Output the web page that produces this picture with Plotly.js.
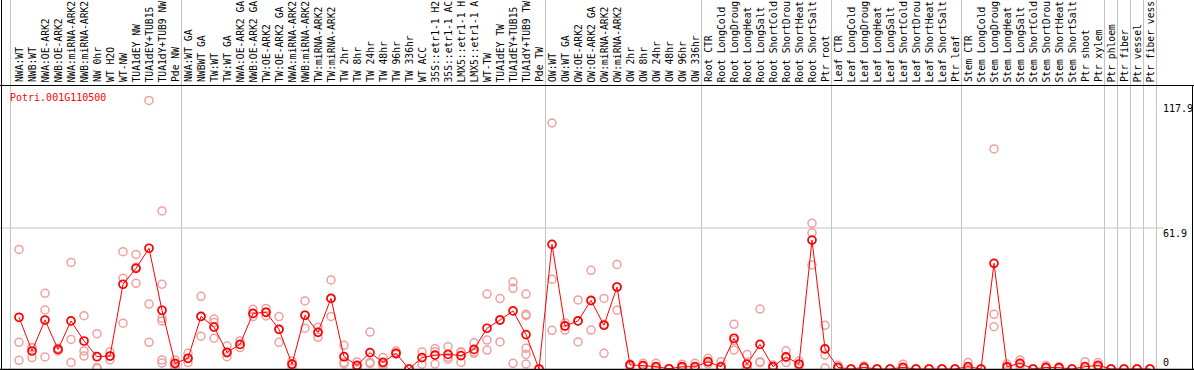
<!DOCTYPE html>
<html>
<head>
<meta charset="utf-8">
<script src="https://cdn.plot.ly/plotly-3.0.1.min.js"></script>
<style>html,body{margin:0;padding:0;background:#fff;}#chart{width:1194px;height:370px;}</style>
</head>
<body>
<div id="chart"></div>
<script>
const geneName = "Potri.001G110500";

const sampleLabels = [
  "NWA:WT","NWB:WT","NWA:OE-ARK2","NWB:OE-ARK2","NWA:miRNA-ARK2","NWB:miRNA-ARK2","NW 0hr","WT H2O","WT-NW","TUA1dEY NW","TUA1dEY+TUB15","TUA1dY+TUB9 NW","Pde NW",
  "NWA:WT GA","NWBWT GA","TW:WT","TW:WT GA","NWA:OE-ARK2 GA","NWB:OE-ARK2 GA","TW:OE-ARK2","TW:OE-ARK2 GA","NWA:miRNA-ARK2","NWB:miRNA-ARK2","TW:miRNA-ARK2","TW:miRNA-ARK2","TW 2hr","TW 8hr","TW 24hr","TW 48hr","TW 96hr","TW 336hr","WT ACC","35S::etr1-1 H2","35S::etr1-1 AC","LMX5::etr1-1 H","LMX5::etr1-1 A","WT-TW","TUA1dEY TW","TUA1dEY+TUB15","TUA1dY+TUB9 TW","Pde TW",
  "OW:WT","OW:WT GA","OW:OE-ARK2","OW:OE-ARK2 GA","OW:miRNA-ARK2","OW:miRNA-ARK2","OW 2hr","OW 8hr","OW 24hr","OW 48hr","OW 96hr","OW 336hr",
  "Root CTR","Root LongCold","Root LongDroug","Root LongHeat","Root LongSalt","Root ShortCold","Root ShortDrou","Root ShortHeat","Root ShortSalt","Ptr root",
  "Leaf CTR","Leaf LongCold","Leaf LongDroug","Leaf LongHeat","Leaf LongSalt","Leaf ShortCold","Leaf ShortDrou","Leaf ShortHeat","Leaf ShortSalt","Ptr leaf",
  "Stem CTR","Stem LongCold","Stem LongDroug","Stem LongHeat","Stem LongSalt","Stem ShortCold","Stem ShortDrou","Stem ShortHeat","Stem ShortSalt","Ptr shoot","Ptr xylem",
  "Ptr phloem","Ptr fiber","Ptr vessel","Ptr fiber vess"
];

const meanValues = [
  22.7,7.9,21.5,8.6,21.1,12.3,5.4,5.7,37.2,44.2,53.0,25.8,2.5,
  4.7,23.1,18.4,7.3,10.8,24.4,24.9,17.4,2.1,23.6,16.1,31.0,5.4,1.6,7.2,2.9,6.9,0,5.0,6.1,6.4,5.9,8.6,17.9,21.5,25.5,15.1,0,
  54.7,18.9,21.1,30.1,19.2,36.0,1.8,1.5,1.0,0.1,1.0,1.0,
  3.2,1.0,13.5,2.1,10.8,1.0,5.3,2.2,56.6,8.8,
  0.7,0,0.7,0,0,0.7,0,0,0,0,
  1.0,0,46.4,1.0,2.5,0,0.7,0.6,0,1.0,1.6,
  0,0,0,0
];

const replicateValues = [
  [52.5,11.7,3.8],[9.4,9.3,5.0],[33.2,25.9,5.3],[9.1,8.8,7.9],[46.8,13.0,2.9],[23.4,7.9,5.7],[15.5,0.7,0.2],[7.6,5.5,4.0],[51.5,39.8,20.1],[50.3,44.7,37.6],[117.9,28.5,11.7],[69.4,37.2,22.3,21.1,4.0,2.6],[4.0,2.0,1.0,0.2],
  [6.9,4.5,2.8],[31.9,23.0,14.4],[21.9,20.4,13.5],[10.1,7.0,5.4],[12.3,10.8,9.4],[26.2,24.4,23.0],[26.6,24.9,23.3],[23.0,17.5,11.7],[3.5,2.3,0.4],[29.9,23.6,17.9],[18.3,16.1,13.9],[39.1,31.0,23.1],[10.4,2.9,2.2],[3.1,1.0,0.4],[16.2,3.0,2.4],[5.0,2.2,1.3],[7.9,6.9,6.4],[0,0,0],[7.5,5.0,2.1],[8.9,7.6,2.2],[9.8,5.2,4.3],[7.6,7.2,2.9],[11.5,7.5,6.9],[32.9,12.7,8.3],[30.9,21.7,11.9],[38.2,35.4,2.5],[32.9,24.0,23.4,9.1,6.4,2.2],[0,0,0],
  [108.0,39.4,17.0],[20.3,18.9,17.1],[30.3,21.1,11.9],[43.3,29.9,17.1],[31.0,19.7,6.9],[45.9,36.0,25.8],[2.2,1.8,1.0],[2.5,1.5,1.0],[2.5,0.3,0.2],[0.1,0.1,0],[2.1,0.5,0.4],[2.5,0.4,0.1],
  [4.7,3.2,2.2],[3.2,0.4,0],[19.6,12.6,8.3],[6.4,0.4,0],[26.3,3.2,2.8],[1.8,0.8,0.4],[8.0,5.1,2.8],[3.5,1.6,1.5],[64.0,59.8,45.7],[19.2,6.1,0.4],
  [1.6,0.3,0.2],[0,0,0],[1.3,0.5,0.2],[0,0,0],[0,0,0],[2.1,0,0],[0,0,0],[0,0,0],[0,0,0],[0,0,0],
  [2.8,0.2,0],[0,0,0],[96.6,24.0,18.6],[2.2,0.5,0.3],[4.0,2.2,1.3],[0,0,0],[1.5,0.4,0.2],[1.0,0.6,0.2],[0,0,0],[3.2,0,0],[2.8,1.3,0.7],
  [0,0,0],[0,0,0],[0,0,0],[0,0,0]
];

const groupSeparators = [-0.65, 12.5, 40.5, 52.5, 62.5, 72.5, 83.5, 84.5, 85.5, 86.5, 87.5];
const axisLabels = ["117.9", "61.9", "0"];
const gridValue = 61.9;

// pixel mapping helpers (plot area = full figure)
const W = 1194, H = 370;
const x0px = 19, dxpx = 13;            // category 0 at 19px, 13px apart
const y0px = 369, pxPerUnit = 141 / 61.9;
const xFromPx = p => (p - x0px) / dxpx;
const yFromPx = p => (y0px - p) / pxPerUnit;

const idx = sampleLabels.map((_, i) => i);
const repX = [], repY = [];
replicateValues.forEach((arr, i) => arr.forEach(v => { repX.push(i); repY.push(v); }));

const traces = [
  {
    x: repX, y: repY, type: 'scatter', mode: 'markers', hoverinfo: 'skip',
    marker: {symbol: 'circle-open', size: 8, color: '#eea0a0', line: {width: 1.5, color: '#eea0a0'}}
  },
  {
    x: idx, y: meanValues, type: 'scatter', mode: 'lines+markers',
    line: {color: '#ff0000', width: 1},
    marker: {symbol: 'circle-open', size: 8, color: '#ff0000', line: {width: 1.7, color: '#ff0000'}}
  }
];

const shapes = [];
groupSeparators.forEach(s => shapes.push({
  type: 'line', xref: 'x', yref: 'paper', x0: s, x1: s, y0: 0, y1: 1,
  line: {color: '#c4c4c4', width: 1}, layer: 'below'
}));
shapes.push({type: 'line', xref: 'x', yref: 'y', x0: xFromPx(0), x1: 88.0, y0: gridValue, y1: gridValue,
  line: {color: '#c4c4c4', width: 1}, layer: 'below'});
// frame lines
shapes.push({type: 'line', xref: 'paper', yref: 'y', x0: 0, x1: 1, y0: yFromPx(85.5), y1: yFromPx(85.5), line: {color: '#000', width: 1}});
shapes.push({type: 'line', xref: 'paper', yref: 'y', x0: 0, x1: 1, y0: yFromPx(369.5), y1: yFromPx(369.5), line: {color: '#000', width: 1.5}});
shapes.push({type: 'line', xref: 'x', yref: 'paper', x0: xFromPx(1.5), x1: xFromPx(1.5), y0: 0, y1: 1, line: {color: '#000', width: 1}});
shapes.push({type: 'line', xref: 'x', yref: 'y', x0: xFromPx(1192.5), x1: xFromPx(1192.5), y0: yFromPx(370), y1: yFromPx(85.5), line: {color: '#000', width: 1}});

const mono = {family: 'DejaVu Sans Mono, monospace', size: 10, color: '#000'};
const labelFont = {family: 'DejaVu Sans Mono, monospace', size: 9.7, color: '#000'};
const annotations = [];
sampleLabels.forEach((t, i) => annotations.push({
  x: i, y: yFromPx(83.5), xref: 'x', yref: 'y', text: t, showarrow: false,
  textangle: -90, xanchor: 'center', yanchor: 'bottom', borderpad: 0, font: labelFont
}));
annotations.push({
  x: xFromPx(9), y: yFromPx(97), xref: 'x', yref: 'y', text: geneName, showarrow: false,
  xanchor: 'left', yanchor: 'middle', borderpad: 0, font: Object.assign({}, mono, {color: '#ff0000'})
});
const axisLabelPx = [108, 233, 362];
axisLabels.forEach((t, k) => annotations.push({
  x: xFromPx(1162), y: yFromPx(axisLabelPx[k]), xref: 'x', yref: 'y', text: t, showarrow: false,
  xanchor: 'left', yanchor: 'middle', borderpad: 0, font: mono
}));

const layout = {
  width: W, height: H,
  margin: {l: 0, r: 0, t: 0, b: 0, pad: 0},
  paper_bgcolor: '#fff', plot_bgcolor: '#fff',
  showlegend: false,
  xaxis: {visible: false, range: [xFromPx(0), xFromPx(W)], fixedrange: true},
  yaxis: {visible: false, range: [yFromPx(H), yFromPx(0)], fixedrange: true},
  shapes: shapes,
  annotations: annotations
};

Plotly.newPlot('chart', traces, layout, {displayModeBar: false, staticPlot: true});
</script>
</body>
</html>
